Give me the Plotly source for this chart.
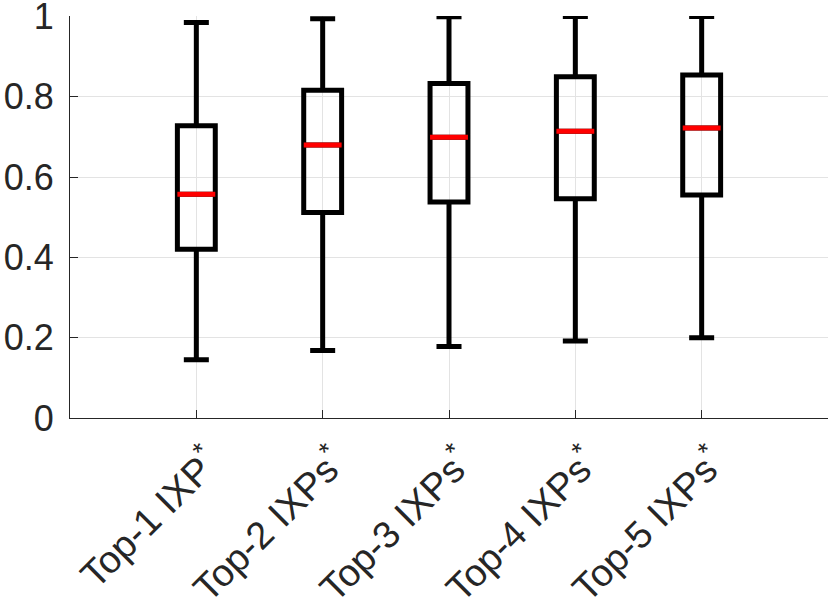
import plotly.graph_objects as go

# values
labels = ["Top-1 IXP", "Top-2 IXPs", "Top-3 IXPs", "Top-4 IXPs", "Top-5 IXPs"]
positions = [1, 2, 3, 4, 5]
lower_whisker = [0.145, 0.168, 0.178, 0.192, 0.200]
q1 = [0.420, 0.512, 0.538, 0.546, 0.555]
median = [0.557, 0.680, 0.699, 0.714, 0.722]
q3 = [0.728, 0.816, 0.833, 0.850, 0.854]
upper_whisker = [0.985, 0.994, 0.999, 1.000, 1.000]

y_ticks = [0, 0.2, 0.4, 0.6, 0.8, 1]
y_tick_labels = ["0", "0.2", "0.4", "0.6", "0.8", "1"]

tick_text = [lab + "<sup>*</sup>" for lab in labels]
font = dict(family="Liberation Sans, Arial, sans-serif", size=36, color="#262626")

fig = go.Figure()

# black boxes and whiskers (median redrawn in red on top)
fig.add_trace(go.Box(
    x=positions,
    q1=q1,
    median=median,
    q3=q3,
    lowerfence=lower_whisker,
    upperfence=upper_whisker,
    width=0.3,
    whiskerwidth=0.66,
    line=dict(color="black", width=5),
    fillcolor="rgba(0,0,0,0)",
    boxpoints=False,
    hoverinfo="skip",
    showlegend=False,
))

# red median bars as zero-height boxes
fig.add_trace(go.Box(
    x=positions,
    q1=median,
    median=median,
    q3=median,
    lowerfence=median,
    upperfence=median,
    width=0.3,
    whiskerwidth=0,
    line=dict(color="#ff0000", width=5),
    fillcolor="rgba(0,0,0,0)",
    boxpoints=False,
    hoverinfo="skip",
    showlegend=False,
))

fig.update_layout(
    width=830,
    height=614,
    margin=dict(l=70, r=2, t=16, b=196),
    paper_bgcolor="white",
    plot_bgcolor="white",
    font=font,
    boxmode="overlay",
)

axis_style = dict(
    showgrid=True,
    gridcolor="#e3e3e3",
    gridwidth=1,
    zeroline=False,
    showline=True,
    linecolor="#262626",
    linewidth=1,
    ticks="inside",
    ticklen=8,
    tickcolor="#262626",
    tickwidth=1,
    automargin=False,
    ticklabeloverflow="allow",
)

fig.update_xaxes(
    range=[0, 6],
    tickvals=positions,
    ticktext=tick_text,
    tickangle=-45,
    tickfont=dict(font, size=38),
    ticklabelshift=12,
    ticklabelstandoff=6,
    **axis_style,
)

fig.update_yaxes(
    range=[0, 1.001],
    tickvals=y_ticks,
    ticktext=y_tick_labels,
    tickfont=font,
    ticklabelstandoff=8,
    **axis_style,
)

# drop the default body margin so the figure sits at the window's corner
fig.write_html(
    "out.html",
    config={"displayModeBar": False},
    post_script="document.body.style.margin = '0';",
)
